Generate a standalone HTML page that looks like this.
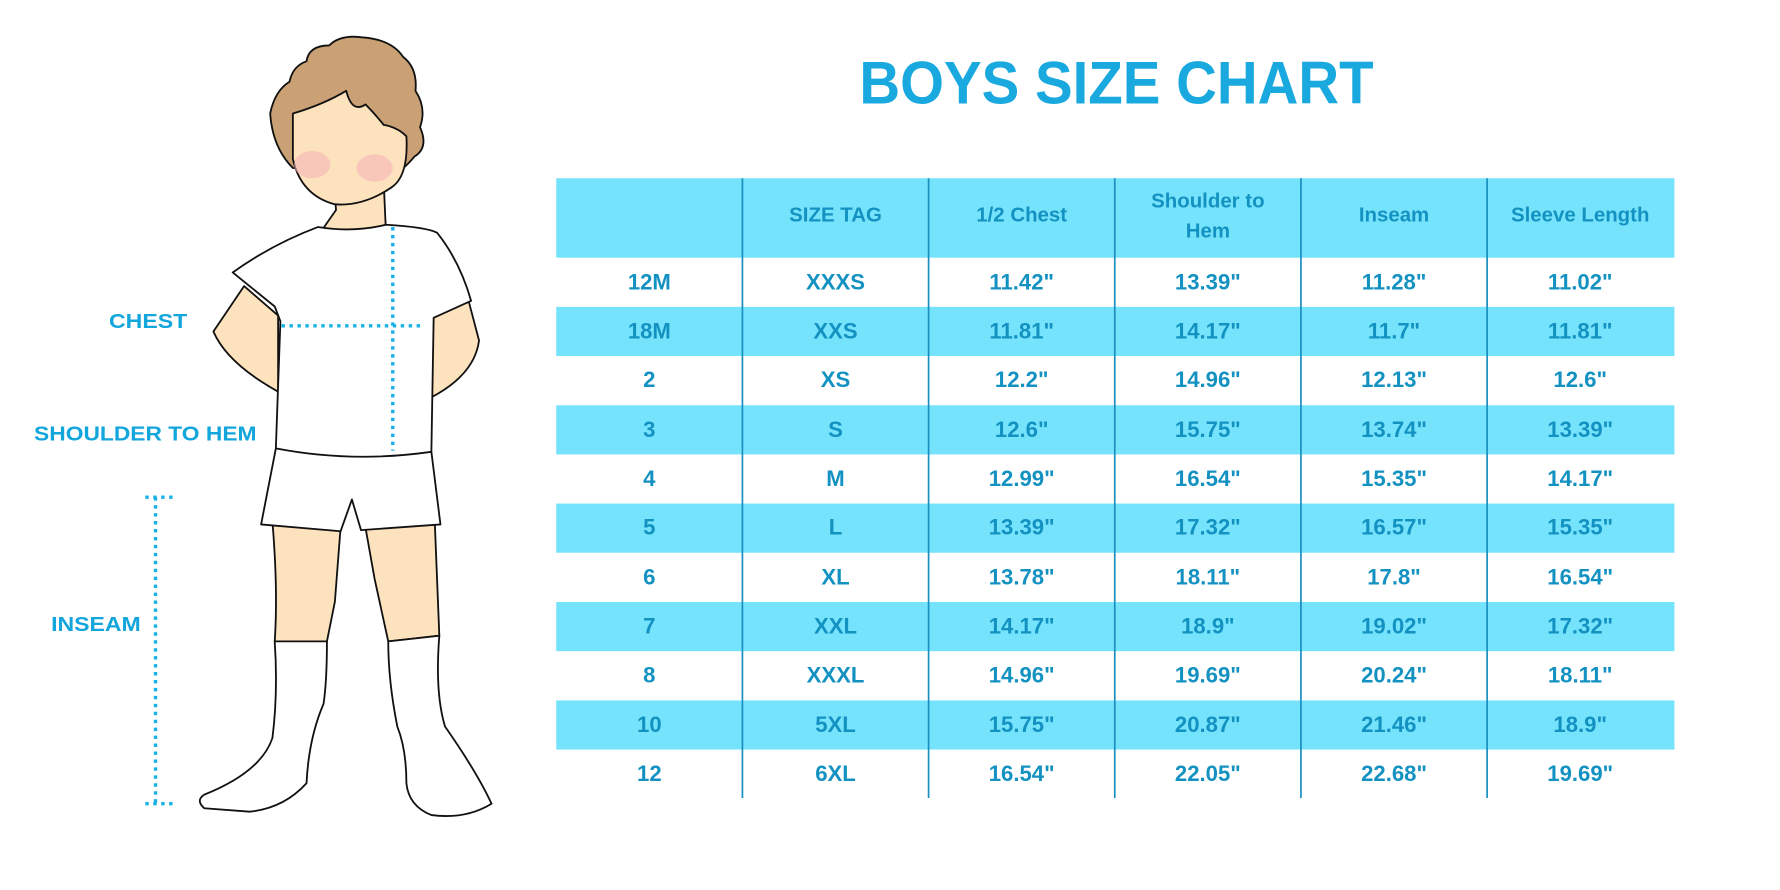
<!DOCTYPE html>
<html><head><meta charset="utf-8"><style>
html,body{margin:0;padding:0;background:#fff;}
svg{display:block;}
.t{font-family:"Liberation Sans",sans-serif;font-weight:bold;fill:#1392c2;text-anchor:middle;}
.h{font-size:18px;}
.c{font-size:19.5px;}
.lab{font-family:"Liberation Sans",sans-serif;font-weight:bold;fill:#12a6dc;font-size:18px;}
</style></head><body>
<svg width="1780" height="890" viewBox="0 0 1568 784" xmlns="http://www.w3.org/2000/svg">
<rect width="1568" height="784" fill="#fff"/>
<text x="757" y="91" style="font-family:'Liberation Sans',sans-serif;font-weight:bold;font-size:53px;fill:#19a9df" textLength="453" lengthAdjust="spacingAndGlyphs">BOYS SIZE CHART</text>
<rect x="490" y="157" width="985" height="70" fill="#75e3fc"/>
<g fill="#75e3fc">
<rect x="490" y="270.3" width="985" height="43.3"/>
<rect x="490" y="357" width="985" height="43.3"/>
<rect x="490" y="443.6" width="985" height="43.3"/>
<rect x="490" y="530.3" width="985" height="43.3"/>
<rect x="490" y="617" width="985" height="43.3"/>
</g>
<g stroke="#1a8fc0" stroke-width="1.5">
<line x1="654" y1="157" x2="654" y2="703"/><line x1="818" y1="157" x2="818" y2="703"/>
<line x1="982" y1="157" x2="982" y2="703"/><line x1="1146" y1="157" x2="1146" y2="703"/>
<line x1="1310" y1="157" x2="1310" y2="703"/>
</g>
<g class="t h">
<text x="736" y="195">SIZE TAG</text>
<text x="900" y="195">1/2 Chest</text>
<text x="1064" y="183">Shoulder to</text>
<text x="1064" y="209">Hem</text>
<text x="1228" y="195">Inseam</text>
<text x="1392" y="195">Sleeve Length</text>
</g>
<g class="t c">
<text x="572" y="255">12M</text><text x="736" y="255">XXXS</text><text x="900" y="255">11.42"</text><text x="1064" y="255">13.39"</text><text x="1228" y="255">11.28"</text><text x="1392" y="255">11.02"</text>
<text x="572" y="298">18M</text><text x="736" y="298">XXS</text><text x="900" y="298">11.81"</text><text x="1064" y="298">14.17"</text><text x="1228" y="298">11.7"</text><text x="1392" y="298">11.81"</text>
<text x="572" y="341">2</text><text x="736" y="341">XS</text><text x="900" y="341">12.2"</text><text x="1064" y="341">14.96"</text><text x="1228" y="341">12.13"</text><text x="1392" y="341">12.6"</text>
<text x="572" y="385">3</text><text x="736" y="385">S</text><text x="900" y="385">12.6"</text><text x="1064" y="385">15.75"</text><text x="1228" y="385">13.74"</text><text x="1392" y="385">13.39"</text>
<text x="572" y="428">4</text><text x="736" y="428">M</text><text x="900" y="428">12.99"</text><text x="1064" y="428">16.54"</text><text x="1228" y="428">15.35"</text><text x="1392" y="428">14.17"</text>
<text x="572" y="471">5</text><text x="736" y="471">L</text><text x="900" y="471">13.39"</text><text x="1064" y="471">17.32"</text><text x="1228" y="471">16.57"</text><text x="1392" y="471">15.35"</text>
<text x="572" y="515">6</text><text x="736" y="515">XL</text><text x="900" y="515">13.78"</text><text x="1064" y="515">18.11"</text><text x="1228" y="515">17.8"</text><text x="1392" y="515">16.54"</text>
<text x="572" y="558">7</text><text x="736" y="558">XXL</text><text x="900" y="558">14.17"</text><text x="1064" y="558">18.9"</text><text x="1228" y="558">19.02"</text><text x="1392" y="558">17.32"</text>
<text x="572" y="601">8</text><text x="736" y="601">XXXL</text><text x="900" y="601">14.96"</text><text x="1064" y="601">19.69"</text><text x="1228" y="601">20.24"</text><text x="1392" y="601">18.11"</text>
<text x="572" y="645">10</text><text x="736" y="645">5XL</text><text x="900" y="645">15.75"</text><text x="1064" y="645">20.87"</text><text x="1228" y="645">21.46"</text><text x="1392" y="645">18.9"</text>
<text x="572" y="688">12</text><text x="736" y="688">6XL</text><text x="900" y="688">16.54"</text><text x="1064" y="688">22.05"</text><text x="1228" y="688">22.68"</text><text x="1392" y="688">19.69"</text>
</g>
<g stroke="#111" stroke-width="1.6" stroke-linejoin="round">
<path d="M245,278 L215,252 L188,292 Q200,320 245,345 Z" fill="#fde3bd"/>
<path d="M378,282 L412,262 L422,300 Q418,330 380,350 Z" fill="#fde3bd"/>
<path d="M294,160 L296,185 L282,205 L340,205 L338,160 Z" fill="#fde3bd"/>
<path d="M240,460 L300,465 L295,530 L288,565 L242,565 Q245,520 240,460 Z" fill="#fde3bd"/>
<path d="M322,465 L383,460 L387,560 L342,565 L330,510 Z" fill="#fde3bd"/>
<path d="M242,565 L288,565 Q288,600 285,620 Q272,650 270,690 Q250,712 220,715 L180,712 Q172,705 180,700 Q230,680 240,650 Q245,610 242,565 Z" fill="#fff"/>
<path d="M342,565 L387,560 Q383,610 392,640 Q420,680 433,708 Q410,722 380,718 Q360,710 358,690 Q358,660 350,640 Q342,600 342,565 Z" fill="#fff"/>
<path d="M243,395 L380,398 L388,462 L318,467 L310,440 L300,468 L230,462 Z" fill="#fff"/>
<path d="M205,240 Q240,215 280,200 Q310,205 340,198 Q375,200 385,205 Q405,230 415,265 L382,280 L380,398 Q310,408 243,395 L247,283 L242,270 Z" fill="#fff"/>
<path d="M258,148 Q240,130 238,100 Q242,80 255,72 Q258,58 270,54 Q272,40 290,40 Q300,30 320,33 Q345,35 355,50 Q368,60 366,80 Q376,95 370,112 Q378,130 365,138 Q355,150 345,155 L300,150 Z" fill="#c9a174"/>
<path d="M258,100 Q285,92 305,80 Q310,100 322,92 Q330,100 338,110 Q350,112 358,120 Q360,155 345,165 Q320,182 295,180 Q265,172 258,140 Z" fill="#fde3bd"/>
</g>
<ellipse cx="275" cy="145" rx="16" ry="12" fill="#f7b3b7" opacity="0.6"/>
<ellipse cx="330" cy="148" rx="16" ry="12" fill="#f7b3b7" opacity="0.6"/>
<g stroke="#19b0e6" stroke-width="3" stroke-dasharray="3 4" fill="none">
<line x1="248" y1="287" x2="372" y2="287"/>
<line x1="346" y1="200" x2="346" y2="397"/>
<line x1="137" y1="438" x2="137" y2="708"/>
<line x1="128" y1="438" x2="152" y2="438"/>
<line x1="128" y1="708" x2="152" y2="708"/>
</g>
<text x="96" y="289" class="lab" textLength="69" lengthAdjust="spacingAndGlyphs">CHEST</text>
<text x="30" y="388" class="lab" textLength="196" lengthAdjust="spacingAndGlyphs">SHOULDER TO HEM</text>
<text x="45" y="556" class="lab" textLength="79" lengthAdjust="spacingAndGlyphs">INSEAM</text>
</svg>
</body></html>
